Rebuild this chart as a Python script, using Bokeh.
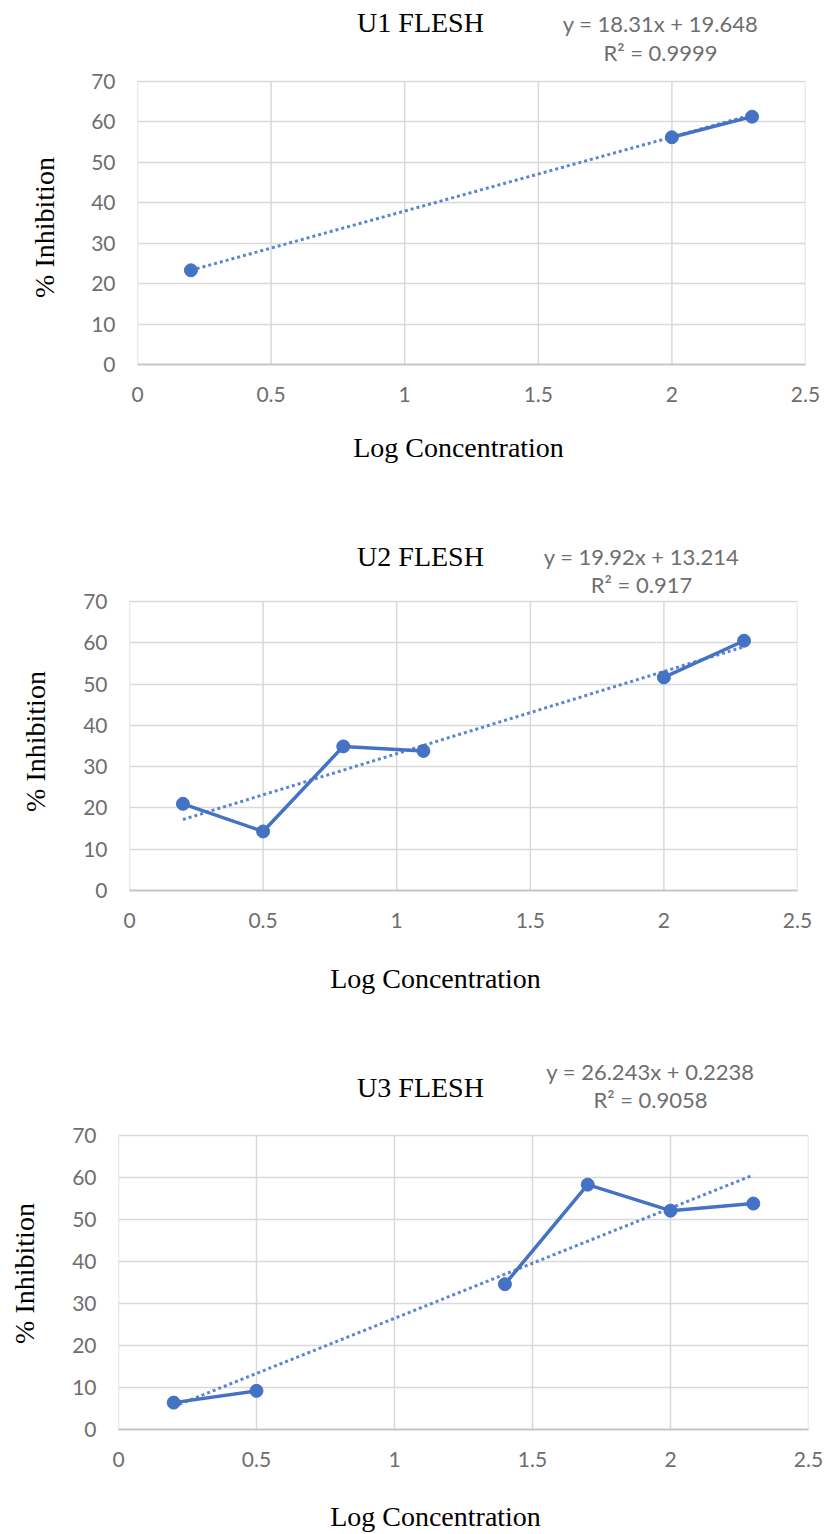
import math
from bokeh.plotting import figure
from bokeh.models import Range1d, FixedTicker, Label, ColumnDataSource
from bokeh.layouts import column, row
from bokeh.embed import file_html
from bokeh.resources import INLINE

nan = float("nan")

# ---- data -------------------------------------------------------------
log_conc = [0.2, 0.5, 0.8, 1.1, 1.4, 1.7, 2.0, 2.3]
u1_inhibition = [23.3, nan, nan, nan, nan, nan, 56.2, 61.3]
u2_inhibition = [21.0, 14.3, 34.9, 33.8, nan, nan, 51.6, 60.5]
u3_inhibition = [6.4, 9.2, nan, nan, 34.6, 58.3, 52.1, 53.8]

titles = ["U1 FLESH", "U2 FLESH", "U3 FLESH"]
slopes = [18.31, 19.92, 26.243]
intercepts = [19.648, 13.214, 0.2238]
eq_texts = ["y = 18.31x + 19.648", "y = 19.92x + 13.214", "y = 26.243x + 0.2238"]
r2_texts = ["R\u00b2 = 0.9999", "R\u00b2 = 0.917", "R\u00b2 = 0.9058"]

x_ticks = [0, 0.5, 1, 1.5, 2, 2.5]
x_tick_labels = ["0", "0.5", "1", "1.5", "2", "2.5"]
y_ticks = [0, 10, 20, 30, 40, 50, 60, 70]
y_tick_labels = ["0", "10", "20", "30", "40", "50", "60", "70"]
x_label = "Log Concentration"
y_label = "% Inhibition"

# ---- layout (pixels) ----------------------------------------------------
W = 826
SIDE = 62   # width of the strip holding the rotated y-axis title
# per panel: chart height, footer height, plot-area left/right (page pixels),
#            pixel row of the top (70) and bottom (0) gridlines in the chart
panel_layout = [
    dict(main=420, foot=85, L=137, R=805, T=81, B=364),
    dict(main=445, foot=90, L=129, R=797, T=96, B=385),
    dict(main=450, foot=44, L=118, R=808, T=95, B=389),
]
# text positions (px, py) in page-x / chart-row pixels; x-label in footer pixels
panel_text_pos = [
    dict(title=(420, 22), eq=(660, 23), r2=(660, 52), xl=(458, 27), yl=(44, 227)),
    dict(title=(420, 51), eq=(641, 51), r2=(641, 79), xl=(435, 28), yl=(35, 236)),
    dict(title=(420, 47), eq=(650, 31), r2=(650, 59), xl=(435, 26), yl=(24, 233)),
]

BLUE = "#4472C4"
TREND = "#5a86d0"
GRID = "#d9d9d9"
TICK_COL = "#6e6e6e"
SERIF = "Liberation Serif"
SANS = "Lato"
SERIF_SIZE = "28px"
SANS_SIZE = "21px"
EQ_SIZE = "22px"


def text_strip(w, h):
    """A figure whose frame is the whole strip, used only to hold text."""
    f = figure(width=w, height=h, output_backend="svg", toolbar_location=None,
               x_range=Range1d(0, w), y_range=Range1d(h, 0),
               x_axis_type=None, y_axis_type=None, min_border=0,
               frame_align=False)
    f.grid.visible = False
    f.outline_line_color = None
    f.background_fill_color = "white"
    f.border_fill_color = "white"
    return f


series = [u1_inhibition, u2_inhibition, u3_inhibition]
children = []
for i in range(3):
    lay = panel_layout[i]
    tp = panel_text_pos[i]
    L, R, H, T, B = lay["L"], lay["R"], lay["main"], lay["T"], lay["B"]
    y0, y70 = y_ticks[0], y_ticks[-1]
    x0, x25 = x_ticks[0], x_ticks[-1]
    # the frame reaches the top of the figure so the header texts sit inside it
    y_top = y70 * B / (B - T)

    p = figure(width=W - SIDE, height=H, output_backend="svg", toolbar_location=None,
               x_range=Range1d(x0, x25), y_range=Range1d(y0, y_top),
               min_border_left=L - SIDE, min_border_right=W - R,
               min_border_top=0, min_border_bottom=H - B,
               frame_align=False)
    p.background_fill_color = "white"
    p.border_fill_color = "white"
    p.outline_line_color = None

    p.xaxis.ticker = FixedTicker(ticks=x_ticks)
    p.yaxis.ticker = FixedTicker(ticks=y_ticks)
    p.yaxis.bounds = (y0, y70)
    p.xaxis.major_label_overrides = {t: s for t, s in zip(x_ticks, x_tick_labels)}
    p.yaxis.major_label_overrides = {t: s for t, s in zip(y_ticks, y_tick_labels)}
    for ax in (p.xaxis, p.yaxis):
        ax.major_tick_line_color = None
        ax.minor_tick_line_color = None
        ax.major_tick_out = 0
        ax.major_tick_in = 0
        ax.major_label_standoff = 22
        ax.major_label_text_font = SANS
        ax.major_label_text_font_size = SANS_SIZE
        ax.major_label_text_color = TICK_COL
    p.yaxis.axis_line_color = None
    p.xaxis.axis_line_color = "#c6c6c6"
    p.xaxis.axis_line_width = 2

    # horizontal gridlines from the library grid; vertical ones limited to 0..70
    p.xgrid.visible = False
    p.ygrid.ticker = FixedTicker(ticks=y_ticks)
    p.ygrid.grid_line_color = GRID
    p.ygrid.grid_line_width = 1.5
    vsrc = ColumnDataSource(dict(x=x_ticks, y0=[y0] * len(x_ticks), y1=[y70] * len(x_ticks)))
    p.segment(x0="x", y0="y0", x1="x", y1="y1", source=vsrc,
              line_color=GRID, line_width=1.5)

    ys = series[i]
    src = ColumnDataSource(dict(x=log_conc, y=ys))
    xs_valid = [x for x, y in zip(log_conc, ys) if not math.isnan(y)]
    tx = [min(xs_valid), max(xs_valid)]
    ty = [slopes[i] * v + intercepts[i] for v in tx]
    p.line(tx, ty, line_color=TREND, line_width=3, line_dash="3 3")
    p.line("x", "y", source=src, line_color=BLUE, line_width=3.5)
    p.scatter("x", "y", source=src, size=13, marker="circle",
              fill_color=BLUE, line_color=BLUE)

    def to_data(px, py):
        return ((px - L) / (R - L) * (x25 - x0) + x0, (B - py) / (B - T) * (y70 - y0) + y0)

    for key, txt, font, size, col in [
        ("title", titles[i], SERIF, SERIF_SIZE, "black"),
        ("eq", eq_texts[i], SANS, EQ_SIZE, TICK_COL),
        ("r2", r2_texts[i], SANS, EQ_SIZE, TICK_COL),
    ]:
        dx, dy = to_data(*tp[key])
        p.add_layout(Label(x=dx, y=dy, text=txt, text_font=font, text_font_size=size,
                           text_color=col, text_align="center", text_baseline="middle"))

    # left strip: y-axis title
    side = text_strip(SIDE, H)
    px, py = tp["yl"]
    side.add_layout(Label(x=px, y=py, text=y_label, text_font=SERIF, text_font_size=SERIF_SIZE,
                          text_color="black", text_align="center", text_baseline="middle",
                          angle=math.pi / 2))

    # footer: x-axis title
    foot = text_strip(W, lay["foot"])
    px, py = tp["xl"]
    foot.add_layout(Label(x=px, y=py, text=x_label, text_font=SERIF, text_font_size=SERIF_SIZE,
                          text_color="black", text_align="center", text_baseline="middle"))

    children += [row(side, p, spacing=0), foot]

layout = column(*children, spacing=0)
open("out.html", "w").write(file_html(layout, INLINE))
